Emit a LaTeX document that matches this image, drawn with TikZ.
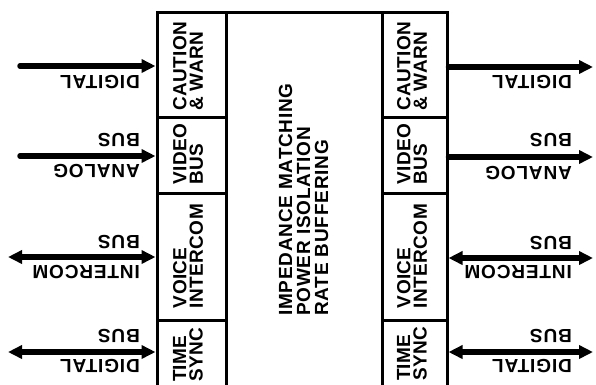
\documentclass[tikz,border=0pt]{standalone}
\usepackage{fontspec}
\newfontfamily\celfont{Liberation Sans}[LetterSpace=2]
\newfontfamily\arrfont{Liberation Sans}[LetterSpace=4.5]
\newfontfamily\midfont{Liberation Sans}[LetterSpace=4]
\usetikzlibrary{arrows.meta}
\begin{document}
\begin{tikzpicture}[x=1pt,y=-1pt,
  cellbox/.style={draw, line width=3pt, inner sep=0pt},
  celltext/.style={rotate=90, align=left, inner sep=0pt,
    font=\celfont\bfseries\fontsize{19}{16.5}\selectfont},
  midtext/.style={rotate=90, align=left, inner sep=0pt,
    font=\midfont\bfseries\fontsize{19}{18}\selectfont},
  lab/.style={rotate=180, anchor=west, inner sep=0pt,
    font=\arrfont\bfseries\fontsize{19}{19}\selectfont},
  arr/.style={line width=5.5pt, line cap=round, -{Triangle[length=14pt,width=13pt]}},
  darr/.style={line width=5.5pt, {Triangle[length=14pt,width=13pt]}-{Triangle[length=14pt,width=13pt]}}
]
\useasboundingbox (0,0) rectangle (596,384);
\clip (0,0) rectangle (596,384);
% left column
\node[cellbox, minimum width=69pt, minimum height=105pt] (LA) at (191.5,64.5) {};
\node[cellbox, minimum width=69pt, minimum height=76pt]  (LB) at (191.5,155) {};
\node[cellbox, minimum width=69pt, minimum height=127pt] (LC) at (191.5,256.5) {};
\node[cellbox, minimum width=69pt, minimum height=72pt]  (LD) at (191.5,356) {};
% centre
\node[cellbox, minimum width=156pt, minimum height=380pt] (M) at (304,202) {};
% right column
\node[cellbox, minimum width=65pt, minimum height=105pt] (RA) at (414.5,64.5) {};
\node[cellbox, minimum width=65pt, minimum height=76pt]  (RB) at (414.5,155) {};
\node[cellbox, minimum width=65pt, minimum height=127pt] (RC) at (414.5,256.5) {};
\node[cellbox, minimum width=65pt, minimum height=72pt]  (RD) at (414.5,356) {};
% cell texts
\node[celltext] (tLA) at (188,66) {CAUTION\\\& WARN};
\node[celltext] (tLB) at (188,154) {VIDEO\\BUS};
\node[celltext] (tLC) at (188,256) {VOICE\\INTERCOM};
\node[celltext] (tLD) at (188,355) {TIME\\SYNC};
\node[celltext] (tRA) at (412,66) {CAUTION\\\& WARN};
\node[celltext] (tRB) at (412,154) {VIDEO\\BUS};
\node[celltext] (tRC) at (412,256) {VOICE\\INTERCOM};
\node[celltext] (tRD) at (412,354) {TIME\\SYNC};
\node[midtext] (tM) at (303.5,199.5) {IMPEDANCE MATCHING\\POWER ISOLATION\\RATE BUFFERING};
% left connectors
\coordinate (ia) at (20,66);
\coordinate (ib) at (20,156);
\coordinate (ic) at (8,257);
\coordinate (id) at (8,352);
\draw[arr] (ia) -- (ia -| LA.west);
\draw[arr] (ib) -- (ib -| LB.west);
\draw[darr] (ic) -- (ic -| LC.west);
\draw[darr] (id) -- (id -| LD.west);
% right connectors
\coordinate (oa) at (593,67);
\coordinate (ob) at (593,157);
\coordinate (oc) at (593,258);
\coordinate (od) at (593,352);
\draw[arr] (oa -| RA.east) -- (oa);
\draw[arr] (ob -| RB.east) -- (ob);
\draw[darr] (oc -| RC.east) -- (oc);
\draw[darr] (od -| RD.east) -- (od);
% left labels
\node[lab] (la1) at (140,82) {DIGITAL};
\node[lab] (lb1) at (140,140) {BUS};
\node[lab] (lb2) at (140,171) {ANALOG};
\node[lab] (lc1) at (140,242) {BUS};
\node[lab] (lc2) at (140,272) {INTERCOM};
\node[lab] (ld1) at (140,336) {BUS};
\node[lab] (ld2) at (140,366) {DIGITAL};
% right labels
\node[lab] (ra1) at (572,82) {DIGITAL};
\node[lab] (rb1) at (572,140) {BUS};
\node[lab] (rb2) at (572,173) {ANALOG};
\node[lab] (rc1) at (572,243) {BUS};
\node[lab] (rc2) at (572,272) {INTERCOM};
\node[lab] (rd1) at (572,336) {BUS};
\node[lab] (rd2) at (572,366) {DIGITAL};
\end{tikzpicture}
\end{document}
